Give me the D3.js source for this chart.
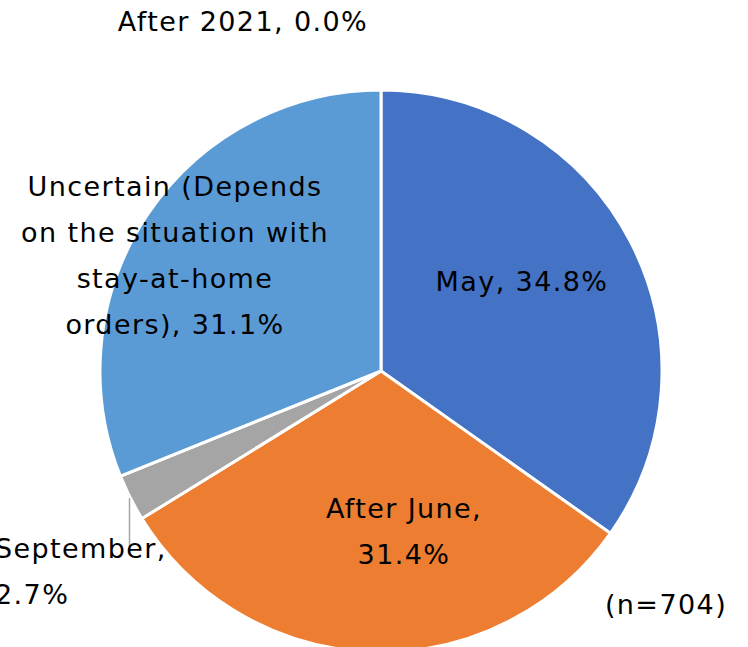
<!doctype html>
<html>
  <head>
    <meta charset="UTF-8"/>
    <title>Pie</title>
    <script src="https://d3js.org/d3.v7.min.js"></script>
    <style>
      body { margin: 0; padding: 0; background: #fff; }
      svg { display: block; }
      text { font-family: "DejaVu Sans", Verdana, sans-serif; fill: #000; letter-spacing: 1.4px; }
    </style>
  </head>
  <body>
    <script>
      const categories = ["May", "After June", "September", "After 2021", "Uncertain (Depends on the situation with stay-at-home orders)"];
      const shares = [34.8, 31.4, 2.7, 0.0, 31.1];
      const colors = ["#4472C4", "#ED7D31", "#A5A5A5", "#FFC000", "#5B9BD5"];
      const labelLines = [
        ["May, 34.8%"],
        ["After June,", "31.4%"],
        ["September,", "2.7%"],
        ["After 2021, 0.0%"],
        ["Uncertain (Depends", "on the situation with", "stay-at-home", "orders), 31.1%"]
      ];
      // label anchor points (centre of text block) relative to the page
      const labelSpots = [
        {x: 522, y: 282, anchor: "middle"},
        {x: 404, y: 532, anchor: "middle"},
        {x: -5, y: 572, anchor: "start"},
        {x: 243, y: 22, anchor: "middle"},
        {x: 175, y: 256, anchor: "middle"}
      ];

      const W = 748, H = 647;
      const cx = 381, cy = 371, R = 281;
      const fs = 27, lh = 46;

      const svg = d3.select("body").append("svg").attr("width", W).attr("height", H);
      const g = svg.append("g").attr("transform", `translate(${cx},${cy})`);

      const pie = d3.pie().sort(null).value(d => d);
      const arc = d3.arc().innerRadius(0).outerRadius(R);
      const arcs = pie(shares);

      g.selectAll("path").data(arcs).join("path")
        .attr("d", arc)
        .attr("fill", (d, i) => colors[i])
        .attr("stroke", "#fff")
        .attr("stroke-width", 3)
        .attr("stroke-linejoin", "round");

      // leader line for September
      svg.append("line")
        .attr("x1", 129.5).attr("y1", 498).attr("x2", 129.5).attr("y2", 555)
        .attr("stroke", "#A6A6A6").attr("stroke-width", 1.5);

      labelLines.forEach((lines, i) => {
        const p = labelSpots[i];
        const t = svg.append("text")
          .attr("text-anchor", p.anchor)
          .attr("font-size", fs);
        const top = p.y - (lines.length - 1) * lh / 2;
        lines.forEach((s, j) => {
          t.append("tspan").attr("x", p.x).attr("y", top + j * lh)
            .attr("dy", "0.35em").text(s);
        });
      });

      svg.append("text").attr("x", 666).attr("y", 605).attr("dy", "0.35em")
        .attr("text-anchor", "middle").attr("font-size", fs).text("(n=704)");
    </script>
  </body>
</html>
